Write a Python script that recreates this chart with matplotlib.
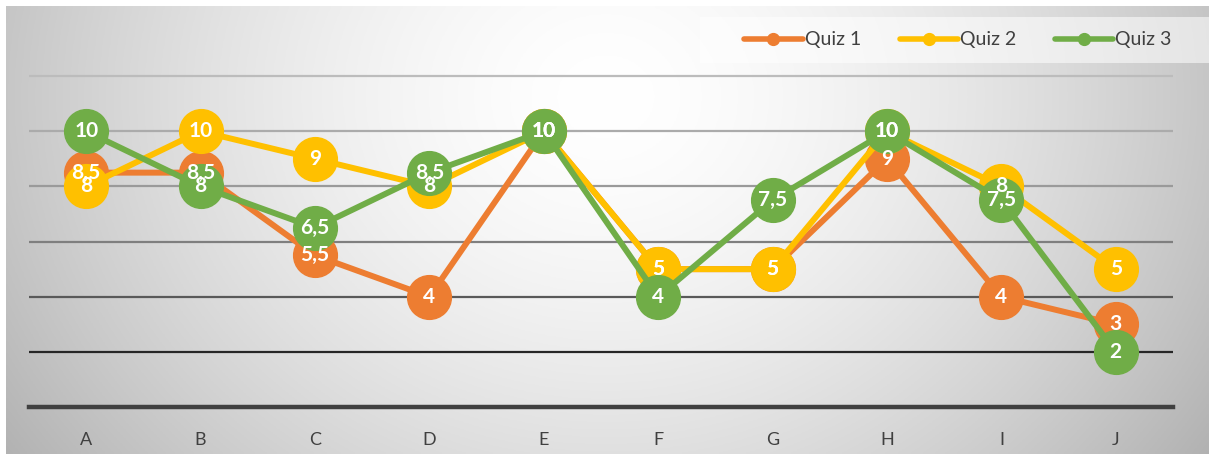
import numpy as np
import matplotlib.pyplot as plt
from matplotlib.lines import Line2D
from matplotlib.patches import Rectangle

categories = ['A', 'B', 'C', 'D', 'E', 'F', 'G', 'H', 'I', 'J']
quiz1 = [8.5, 8.5, 5.5, 4, 10, 5, 5, 9, 4, 3]
quiz2 = [8, 10, 9, 8, 10, 5, 5, 10, 8, 5]
quiz3 = [10, 8, 6.5, 8.5, 10, 4, 7.5, 10, 7.5, 2]
series_names = ['Quiz 1', 'Quiz 2', 'Quiz 3']
colors = ['#ED7D31', '#FFC000', '#70AD47']
grid_values = [2, 4, 6, 8, 10, 12]
grid_colors = ['#262626', '#595959', '#7f7f7f', '#9a9a9a', '#ababab', '#bcbcbc']

plt.rcParams['font.family'] = ['Lato', 'DejaVu Sans']

W, H = 1209, 454
fig = plt.figure(figsize=(W / 100, H / 100), dpi=100)

# radial gradient background for the chart area
bg = fig.add_axes([6 / W, 0, 1 - 6 / W, 448 / H], zorder=0)
xx, yy = np.meshgrid(np.linspace(0, 1203, 400), np.linspace(0, 448, 160))
r = np.sqrt(((xx - 600) / 650) ** 2 + ((yy - 90) / 560) ** 2)
shade = np.clip(1.0 - 0.25 * np.clip(r, 0, 1.2) ** 1.6, 0, 1)
bg.imshow(np.dstack([shade] * 3), aspect='auto', extent=[0, 1, 0, 1], origin='upper')
bg.set_axis_off()

ax = fig.add_axes([29 / W, 47 / H, (1173 - 29) / W, (433 - 47) / H], zorder=1)
ax.patch.set_alpha(0)
x = np.arange(len(categories))
ax.set_xlim(-0.5, len(categories) - 0.5)
ax.set_ylim(0, 14)

for v, c in zip(grid_values, grid_colors):
    ax.axhline(v, color=c, lw=1.6, zorder=1)
ax.axhline(0, color='#404040', lw=3.2, zorder=1, clip_on=False)

all_series = [quiz1, quiz2, quiz3]
for i, (vals, col) in enumerate(zip(all_series, colors)):
    ax.plot(x, vals, color=col, lw=4.3, marker='o', markersize=31.5,
            markerfacecolor=col, markeredgecolor=col, zorder=3 + i,
            solid_capstyle='round', clip_on=False)

# data labels sit on top of every marker
for vals in all_series:
    for xi, v in zip(x, vals):
        txt = ('%g' % v).replace('.', ',')
        ax.text(xi, v, txt, ha='center', va='center', color='white',
                fontsize=15, fontweight='bold', zorder=10)

ax.set_xticks(x)
ax.set_xticklabels(categories, fontsize=13, color='#404040')
ax.tick_params(axis='x', length=0, pad=18)
ax.set_yticks([])
for s in ax.spines.values():
    s.set_visible(False)

# legend box
fig.patches.append(Rectangle((700 / W, 1 - 63 / H), 509 / W, 46 / H,
                             transform=fig.transFigure, facecolor='white',
                             alpha=0.55, edgecolor='none', zorder=2))
handles = [Line2D([], [], color=c, lw=4, marker='o', markersize=8.5, solid_capstyle='round')
           for c in colors]
fig.legend(handles, series_names, loc='center', bbox_to_anchor=(958 / W, 1 - 40 / H),
           ncol=3, frameon=False, fontsize=14, handlelength=3.0, handletextpad=0.1,
           columnspacing=2.0, labelcolor='#404040')

fig.savefig('out.png', dpi=100)
